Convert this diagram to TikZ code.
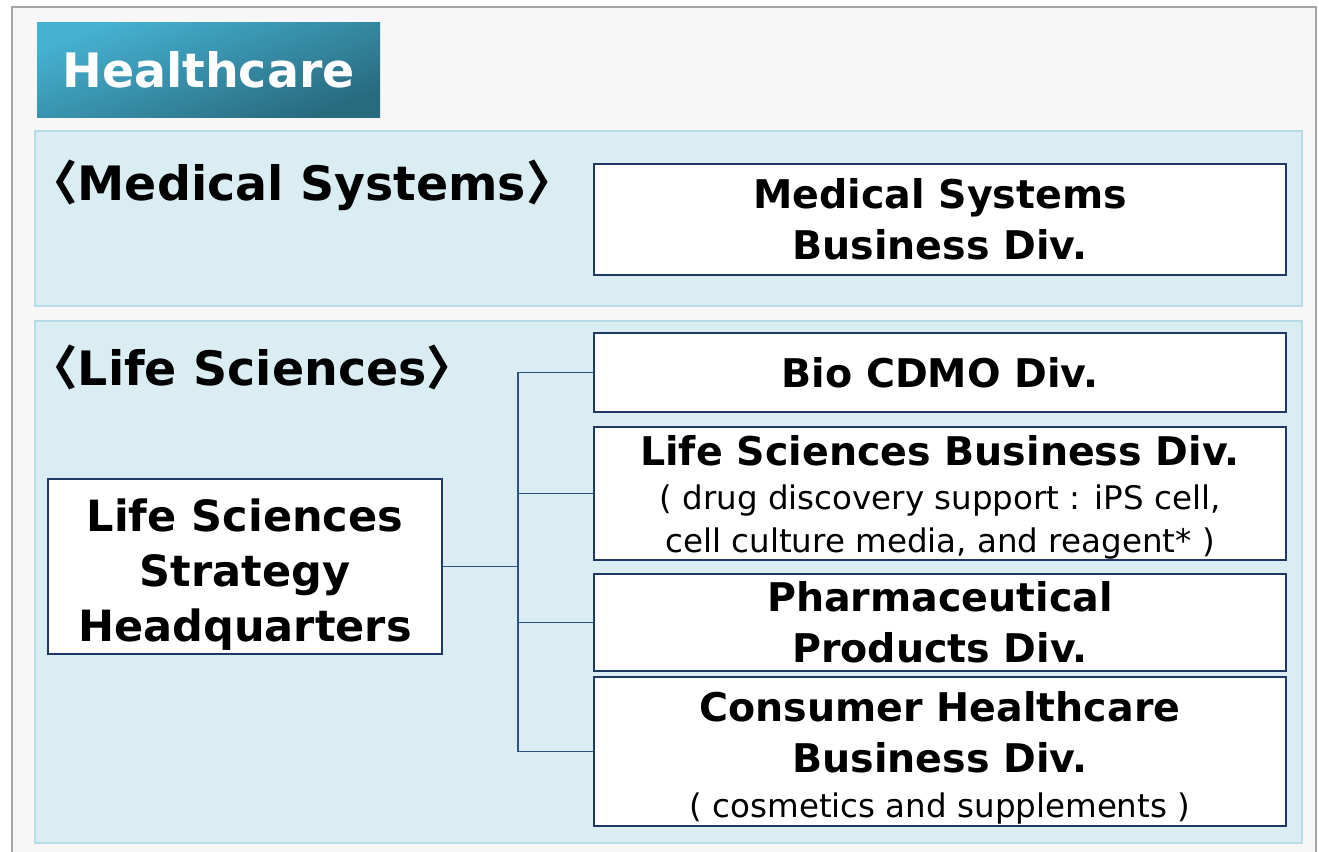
\documentclass[tikz,border=0pt]{standalone}
\usepackage{fontspec}
\setmainfont{DejaVu Sans}
\newfontfamily\cjkfont{Noto Sans CJK JP}
\usepackage{xcolor}
\usetikzlibrary{positioning}
\definecolor{framefill}{HTML}{F7F7F7}
\definecolor{frameline}{HTML}{A6A6A6}
\definecolor{panelfill}{HTML}{DAEDF3}
\definecolor{panelline}{HTML}{B7DCE8}
\definecolor{boxline}{HTML}{1F3864}
\definecolor{linkcol}{HTML}{2E5284}
\definecolor{bannerlight}{HTML}{46B2D2}
\definecolor{bannerdark}{HTML}{286A7E}
\newcommand{\lbr}{{\cjkfont\bfseries 〈}}
\newcommand{\rbr}{{\cjkfont\bfseries 〉}}
\newcommand{\subtxt}[1]{{\mdseries\fontsize{18.5}{22}\selectfont #1}}
\newcommand{\lift}[1]{\rule{0pt}{#1}}   % extra room above the first line

\begin{document}
\begin{tikzpicture}[
    x=0.02cm, y=-0.02cm,   % one unit = one pixel of the layout
    panel/.style = {draw=panelline, line width=1.2pt, fill=panelfill},
    divbox/.style = {draw=boxline, line width=1.4pt, fill=white, align=center,
      inner sep=0pt, minimum width=13.84cm, font=\bfseries\fontsize{22.5}{29}\selectfont},
    heading/.style = {anchor=base west, inner sep=0pt, font=\bfseries\fontsize{27}{32}\selectfont},
    link/.style = {draw=linkcol, line width=0.8pt}
  ]
    \clip (0,0) rectangle (1319,852);
    \useasboundingbox (0,0) rectangle (1319,852);
    \fill[white] (0,0) rectangle (1319,852);

    % outer frame and the two groups
    \draw[fill=framefill, draw=frameline, line width=1.2pt] (12,7) rectangle (1316,880);
    \shade[top color=bannerlight, bottom color=bannerdark, shading angle=20] (37,22) rectangle (380,117);
    \node[text=white, font=\bfseries\fontsize{27}{32}\selectfont] (hc) at (208.5,70) {Healthcare};

    \draw[panel] (35,131) rectangle (1302,306);
    \draw[panel] (35,321) rectangle (1302,843);
    \node[heading] (medhead) at (30,200) {\lbr Medical Systems\rbr};
    \node[heading] (lifehead) at (30,385) {\lbr Life Sciences\rbr};

    % divisions on the right
    \node[divbox, minimum height=2.22cm] (med) at (940,219.5) {Medical Systems\\ Business Div.};
    \node[divbox, minimum height=1.58cm] (bio) at (940,372.5) {Bio CDMO Div.};
    \node[divbox, minimum height=2.66cm] (lsb) at (940,493.5)
      {\lift{22pt}Life Sciences Business Div.\\[-4pt] \subtxt{( drug discovery support : iPS cell,}\\[-4.5pt] \subtxt{cell culture media, and reagent* )}};
    \node[divbox, minimum height=1.94cm] (pharma) at (940,622.5) {Pharmaceutical\\ Products Div.};
    \node[divbox, minimum height=2.98cm] (cons) at (940,751.5)
      {\lift{24.5pt}Consumer Healthcare\\ Business Div.\\[-3pt] \subtxt{( cosmetics and supplements )}};

    % headquarters on the left
    \node[divbox, minimum width=7.88cm, minimum height=3.5cm,
      font=\bfseries\fontsize{24.5}{31.2}\selectfont] (hq) at (245,566.5)
      {\lift{27.6pt}Life Sciences\\ Strategy\\ Headquarters};

    \coordinate (spine) at (518,566.5);
    \draw[link] (hq.east) -- (spine);
    \draw[link] (bio.west) -- (bio.west -| spine) -- (cons.west -| spine) -- (cons.west);
    \draw[link] (lsb.west) -- (lsb.west -| spine);
    \draw[link] (pharma.west) -- (pharma.west -| spine);
  \end{tikzpicture}
\end{document}
